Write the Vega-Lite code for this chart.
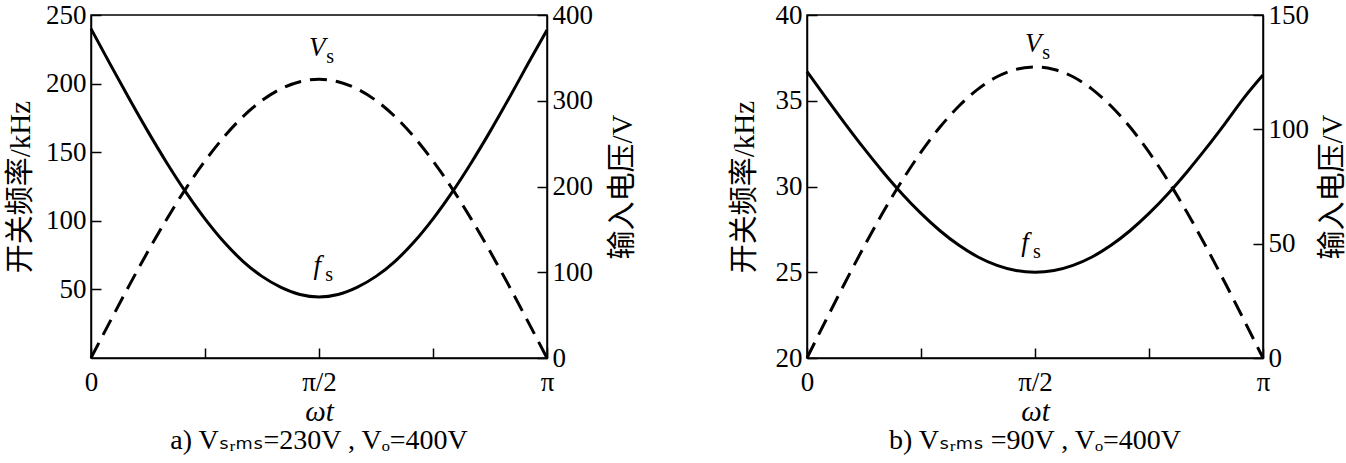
{
  "$schema": "https://vega.github.io/schema/vega-lite/v6.json",
  "background": "white",
  "padding": {"left": 5, "top": 0, "right": 0, "bottom": 0},
  "datasets": {
    "a": [
      {"t": 0.0000, "f": 240.0, "v": 0.0},
      {"t": 0.0417, "f": 214.4, "v": 42.4},
      {"t": 0.0833, "f": 189.3, "v": 84.1},
      {"t": 0.1250, "f": 165.0, "v": 124.4},
      {"t": 0.1667, "f": 142.0, "v": 162.5},
      {"t": 0.2083, "f": 120.7, "v": 197.9},
      {"t": 0.2500, "f": 101.4, "v": 229.8},
      {"t": 0.2917, "f": 84.5, "v": 257.9},
      {"t": 0.3333, "f": 70.5, "v": 281.5},
      {"t": 0.3750, "f": 59.5, "v": 300.3},
      {"t": 0.4167, "f": 51.5, "v": 313.9},
      {"t": 0.4583, "f": 46.3, "v": 322.2},
      {"t": 0.5000, "f": 44.5, "v": 325.0},
      {"t": 0.5417, "f": 46.3, "v": 322.2},
      {"t": 0.5833, "f": 51.5, "v": 313.9},
      {"t": 0.6250, "f": 59.5, "v": 300.3},
      {"t": 0.6667, "f": 70.5, "v": 281.5},
      {"t": 0.7083, "f": 84.5, "v": 257.9},
      {"t": 0.7500, "f": 101.4, "v": 229.8},
      {"t": 0.7917, "f": 120.7, "v": 197.9},
      {"t": 0.8333, "f": 142.0, "v": 162.5},
      {"t": 0.8750, "f": 165.0, "v": 124.4},
      {"t": 0.9167, "f": 189.3, "v": 84.1},
      {"t": 0.9583, "f": 214.4, "v": 42.4},
      {"t": 1.0000, "f": 239.0, "v": 0.0}
    ],
    "b": [
      {"t": 0.0000, "f": 36.70, "v": 0.0},
      {"t": 0.0417, "f": 35.17, "v": 16.6},
      {"t": 0.0833, "f": 33.67, "v": 32.9},
      {"t": 0.1250, "f": 32.22, "v": 48.7},
      {"t": 0.1667, "f": 30.85, "v": 63.7},
      {"t": 0.2083, "f": 29.58, "v": 77.5},
      {"t": 0.2500, "f": 28.43, "v": 90.0},
      {"t": 0.2917, "f": 27.42, "v": 101.0},
      {"t": 0.3333, "f": 26.57, "v": 110.2},
      {"t": 0.3750, "f": 25.89, "v": 117.6},
      {"t": 0.4167, "f": 25.40, "v": 123.0},
      {"t": 0.4583, "f": 25.10, "v": 126.2},
      {"t": 0.5000, "f": 25.00, "v": 127.3},
      {"t": 0.5417, "f": 25.10, "v": 126.2},
      {"t": 0.5833, "f": 25.40, "v": 123.0},
      {"t": 0.6250, "f": 25.89, "v": 117.6},
      {"t": 0.6667, "f": 26.57, "v": 110.2},
      {"t": 0.7083, "f": 27.42, "v": 101.0},
      {"t": 0.7500, "f": 28.43, "v": 90.0},
      {"t": 0.7917, "f": 29.58, "v": 77.5},
      {"t": 0.8333, "f": 30.85, "v": 63.7},
      {"t": 0.8750, "f": 32.22, "v": 48.7},
      {"t": 0.9167, "f": 33.67, "v": 32.9},
      {"t": 0.9583, "f": 35.17, "v": 16.6},
      {"t": 1.0000, "f": 36.50, "v": 0.0}
    ],
    "labA_f": [{"t": 0.496, "y": 67, "main": "f", "sub": "s"}],
    "labA_v": [{"t": 0.496, "y": 362, "main": "V", "sub": "s"}],
    "labB_f": [{"t": 0.478, "y": 26.7, "main": "f", "sub": "s"}],
    "labB_v": [{"t": 0.496, "y": 137.5, "main": "V", "sub": "s"}]
  },
  "config": {
    "font": "Liberation Serif, DejaVu Serif",
    "view": {"stroke": "black", "strokeWidth": 1.5},
    "concat": {"spacing": 90},
    "axis": {
      "grid": false,
      "domainColor": "black",
      "domainWidth": 1.5,
      "tickColor": "black",
      "tickWidth": 1.5,
      "tickSize": -10,
      "labelFont": "Liberation Serif, DejaVu Serif",
      "labelFontSize": 27,
      "labelColor": "black",
      "labelPadding": 15,
      "labelOverlap": false,
      "labelFlush": false,
      "titleFont": "Liberation Serif, Noto Sans CJK SC",
      "titleFontSize": 29,
      "titleFontWeight": "normal",
      "titleColor": "black"
    },
    "axisX": {"labelPadding": 21, "titlePadding": 2},
    "title": {"font": "Liberation Serif, DejaVu Sans", "fontSize": 28, "fontWeight": "normal", "color": "black", "orient": "bottom", "offset": 1}
  },
  "hconcat": [
    {
      "width": 456,
      "height": 343,
      "title": {"text": "a) Vₛᵣₘₛ=230V , Vₒ=400V"},
      "layer": [
        {
          "layer": [
            {
              "data": {"name": "a"},
              "mark": {"type": "line", "color": "black", "strokeWidth": 3, "interpolate": "monotone"},
              "encoding": {
                "x": {"field": "t", "type": "quantitative", "scale": {"domain": [0, 1], "nice": false},
                  "axis": {"values": [0, 0.25, 0.5, 0.75, 1], "labelExpr": "datum.value == 0 ? '0' : datum.value == 0.5 ? 'π/2' : datum.value == 1 ? 'π' : ''", "title": "ωt", "titleFontStyle": "italic"}},
                "y": {"field": "f", "type": "quantitative", "scale": {"domain": [0, 250], "nice": false},
                  "axis": {"orient": "left", "values": [50, 100, 150, 200, 250], "title": "开关频率/kHz", "titlePadding": 10}}
              }
            },
            {
              "data": {"name": "labA_f"},
              "mark": {"type": "text", "fontStyle": "italic", "fontSize": 27, "color": "black"},
              "encoding": {"x": {"field": "t", "type": "quantitative"}, "y": {"field": "y", "type": "quantitative", "scale": {"domain": [0, 250], "nice": false}}, "text": {"field": "main"}}
            },
            {
              "data": {"name": "labA_f"},
              "mark": {"type": "text", "fontSize": 20, "color": "black", "dx": 12, "dy": 9},
              "encoding": {"x": {"field": "t", "type": "quantitative"}, "y": {"field": "y", "type": "quantitative", "scale": {"domain": [0, 250], "nice": false}}, "text": {"field": "sub"}}
            }
          ]
        },
        {
          "layer": [
            {
              "data": {"name": "a"},
              "mark": {"type": "line", "color": "black", "strokeWidth": 3, "strokeDash": [17, 9], "interpolate": "monotone"},
              "encoding": {
                "x": {"field": "t", "type": "quantitative"},
                "y": {"field": "v", "type": "quantitative", "scale": {"domain": [0, 400], "nice": false},
                  "axis": {"orient": "right", "values": [0, 100, 200, 300, 400], "title": "输入电压/V", "titleAngle": 270, "titleBaseline": "top", "titlePadding": 16}}
              }
            },
            {
              "data": {"name": "labA_v"},
              "mark": {"type": "text", "fontStyle": "italic", "fontSize": 27, "color": "black"},
              "encoding": {"x": {"field": "t", "type": "quantitative"}, "y": {"field": "y", "type": "quantitative", "scale": {"domain": [0, 400], "nice": false}}, "text": {"field": "main"}}
            },
            {
              "data": {"name": "labA_v"},
              "mark": {"type": "text", "fontSize": 20, "color": "black", "dx": 13, "dy": 9},
              "encoding": {"x": {"field": "t", "type": "quantitative"}, "y": {"field": "y", "type": "quantitative", "scale": {"domain": [0, 400], "nice": false}}, "text": {"field": "sub"}}
            }
          ]
        }
      ],
      "resolve": {"scale": {"y": "independent"}}
    },
    {
      "width": 456,
      "height": 343,
      "title": {"text": "b) Vₛᵣₘₛ =90V , Vₒ=400V"},
      "layer": [
        {
          "layer": [
            {
              "data": {"name": "b"},
              "mark": {"type": "line", "color": "black", "strokeWidth": 3, "interpolate": "monotone"},
              "encoding": {
                "x": {"field": "t", "type": "quantitative", "scale": {"domain": [0, 1], "nice": false},
                  "axis": {"values": [0, 0.25, 0.5, 0.75, 1], "labelExpr": "datum.value == 0 ? '0' : datum.value == 0.5 ? 'π/2' : datum.value == 1 ? 'π' : ''", "title": "ωt", "titleFontStyle": "italic"}},
                "y": {"field": "f", "type": "quantitative", "scale": {"domain": [20, 40], "nice": false},
                  "axis": {"orient": "left", "values": [20, 25, 30, 35, 40], "title": "开关频率/kHz", "titlePadding": 16}}
              }
            },
            {
              "data": {"name": "labB_f"},
              "mark": {"type": "text", "fontStyle": "italic", "fontSize": 27, "color": "black"},
              "encoding": {"x": {"field": "t", "type": "quantitative"}, "y": {"field": "y", "type": "quantitative", "scale": {"domain": [20, 40], "nice": false}}, "text": {"field": "main"}}
            },
            {
              "data": {"name": "labB_f"},
              "mark": {"type": "text", "fontSize": 20, "color": "black", "dx": 12, "dy": 9},
              "encoding": {"x": {"field": "t", "type": "quantitative"}, "y": {"field": "y", "type": "quantitative", "scale": {"domain": [20, 40], "nice": false}}, "text": {"field": "sub"}}
            }
          ]
        },
        {
          "layer": [
            {
              "data": {"name": "b"},
              "mark": {"type": "line", "color": "black", "strokeWidth": 3, "strokeDash": [17, 9], "interpolate": "monotone"},
              "encoding": {
                "x": {"field": "t", "type": "quantitative"},
                "y": {"field": "v", "type": "quantitative", "scale": {"domain": [0, 150], "nice": false},
                  "axis": {"orient": "right", "values": [0, 50, 100, 150], "title": "输入电压/V", "titleAngle": 270, "titleBaseline": "top", "titlePadding": 10}}
              }
            },
            {
              "data": {"name": "labB_v"},
              "mark": {"type": "text", "fontStyle": "italic", "fontSize": 27, "color": "black"},
              "encoding": {"x": {"field": "t", "type": "quantitative"}, "y": {"field": "y", "type": "quantitative", "scale": {"domain": [0, 150], "nice": false}}, "text": {"field": "main"}}
            },
            {
              "data": {"name": "labB_v"},
              "mark": {"type": "text", "fontSize": 20, "color": "black", "dx": 13, "dy": 9},
              "encoding": {"x": {"field": "t", "type": "quantitative"}, "y": {"field": "y", "type": "quantitative", "scale": {"domain": [0, 150], "nice": false}}, "text": {"field": "sub"}}
            }
          ]
        }
      ],
      "resolve": {"scale": {"y": "independent"}}
    }
  ]
}
